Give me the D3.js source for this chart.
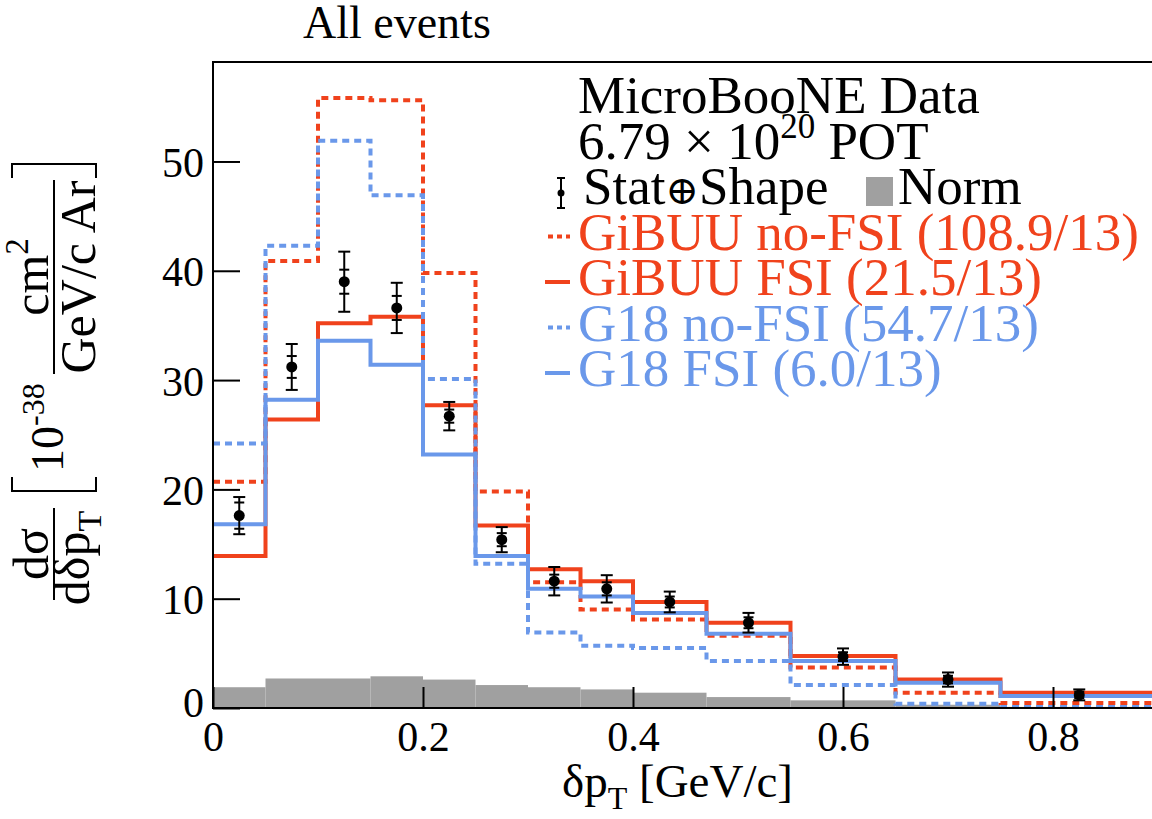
<!DOCTYPE html>
<html lang="en">
    <head>
        <meta charset="utf-8">
        <title>All events - delta pT</title>
        <script src="https://d3js.org/d3.v7.min.js"></script>
        <style type="text/css">
          body{ margin:0; background:#fff; }
          svg{ width:1152px; height:819px; display:block; }
          text{ font-family:"Liberation Serif","DejaVu Serif",serif; fill:#000; }
        </style>
    </head>
    <body>
        <svg></svg>

        <script type="text/javascript">

        // bin edges in GeV/c
        const binEdges = [0, 0.05, 0.1, 0.15, 0.2, 0.25, 0.3, 0.35, 0.4, 0.47, 0.55, 0.65, 0.75, 0.9];

        // measured cross section and uncertainties (10^-38 cm2 / GeV/c Ar)
        const dataVals = [17.6, 31.2, 39.0, 36.6, 26.7, 15.4, 11.6, 10.9, 9.7, 7.8, 4.7, 2.6, 1.2];
        const errTotal = [1.7, 2.1, 2.75, 2.3, 1.3, 1.15, 1.3, 1.25, 0.95, 0.9, 0.75, 0.65, 0.5];
        const errStat  = [1.2, 1.0, 1.1, 1.1, 0.6, 0.6, 0.6, 0.6, 0.5, 0.5, 0.4, 0.35, 0.3];

        // normalisation uncertainty band
        const normVals = [1.9, 2.7, 2.7, 2.9, 2.6, 2.1, 1.9, 1.7, 1.4, 1.0, 0.7, 0.3, 0.1];

        // generator predictions
        const gibuuNoFsi = [20.7, 40.9, 55.8, 55.6, 39.8, 19.8, 11.5, 9.0, 8.1, 6.6, 3.7, 1.4, 0.45];
        const gibuuFsi   = [13.9, 26.4, 35.2, 35.8, 27.7, 16.7, 12.7, 11.6, 9.7, 7.8, 4.75, 2.6, 1.4];
        const g18NoFsi   = [24.2, 42.3, 51.9, 46.9, 30.1, 13.2, 6.9, 5.7, 5.5, 4.3, 2.1, 0.4, 0.1];
        const g18Fsi     = [16.8, 28.2, 33.6, 31.4, 23.2, 13.9, 10.9, 10.2, 8.7, 6.8, 4.3, 2.3, 1.1];

        const yTicks = [0, 10, 20, 30, 40, 50];
        const xTicks = [0, 0.2, 0.4, 0.6, 0.8];

        const legendLabels = ["GiBUU no-FSI (108.9/13)", "GiBUU FSI (21.5/13)", "G18 no-FSI (54.7/13)", "G18 FSI (6.0/13)"];

        const red = "#f0421c";
        const blue = "#6a98ea";
        const grey = "#a0a0a0";

        const svg = d3.select("svg");

        const x = d3.scaleLinear().domain([0, 0.9]).range([213, 1158]);
        const y = d3.scaleLinear().domain([0, 59.1]).range([708, 62]);

        //norm band as grey bars
        svg.append("g").selectAll("rect")
           .data(normVals)
           .enter()
           .append("rect")
           .attr("x", (d,i) => x(binEdges[i]))
           .attr("width", (d,i) => x(binEdges[i+1]) - x(binEdges[i]))
           .attr("y", d => y(d))
           .attr("height", d => y(0) - y(d))
           .style("fill", grey);

        //step histograms
        const step = d3.line()
                       .x(d => x(d[0]))
                       .y(d => y(d[1]))
                       .curve(d3.curveStepAfter);

        const histPts = vals => vals.map((v,i) => [binEdges[i], v]).concat([[binEdges[vals.length], vals[vals.length-1]]]);

        const hists = [
          {vals: gibuuNoFsi, color: red, dash: "7,5"},
          {vals: gibuuFsi, color: red, dash: null},
          {vals: g18NoFsi, color: blue, dash: "7,5"},
          {vals: g18Fsi, color: blue, dash: null}
        ];

        svg.append("g").selectAll("path")
           .data(hists)
           .enter()
           .append("path")
           .attr("d", d => step(histPts(d.vals)))
           .attr("fill", "none")
           .attr("stroke", d => d.color)
           .attr("stroke-width", 4)
           .attr("stroke-dasharray", d => d.dash);

        //axes
        const yAxis = svg.append("g")
           .attr("transform", "translate(213,0)")
           .call(d3.axisLeft(y).tickValues(yTicks).tickSize(-27).tickPadding(9).tickFormat(d3.format("d")));
        const xAxis = svg.append("g")
           .attr("transform", "translate(0,708)")
           .call(d3.axisBottom(x).tickValues(xTicks).tickSize(-21).tickPadding(13).tickFormat(d => d === 0 ? "0" : d3.format(".1f")(d)));

        [yAxis, xAxis].forEach(a => {
          a.select(".domain").remove();
          a.selectAll(".tick line").attr("stroke", "#000").attr("stroke-width", 2);
          a.selectAll(".tick text").attr("font-family", "Liberation Serif").attr("font-size", 42).attr("fill", "#000");
        });
        yAxis.selectAll(".tick text").attr("dy", "0.36em");
        yAxis.selectAll(".tick").filter(d => d === 0).select("text").attr("dy", "0.2em");

        //frame
        svg.append("rect")
           .attr("x", x(0)).attr("y", y(59.1))
           .attr("width", x(0.9) - x(0)).attr("height", y(0) - y(59.1))
           .attr("fill", "none").attr("stroke", "#000").attr("stroke-width", 2);

        //data points with stat and stat+shape errors
        const pts = svg.append("g").selectAll("g")
           .data(dataVals)
           .enter()
           .append("g")
           .attr("transform", (d,i) => "translate(" + x((binEdges[i] + binEdges[i+1]) / 2) + ",0)");

        pts.append("line")
           .attr("y1", (d,i) => y(d - errTotal[i])).attr("y2", (d,i) => y(d + errTotal[i]))
           .attr("stroke", "#000").attr("stroke-width", 2);
        [1, -1].forEach(s => {
          pts.append("line")
             .attr("x1", -6).attr("x2", 6)
             .attr("y1", (d,i) => y(d + s * errTotal[i])).attr("y2", (d,i) => y(d + s * errTotal[i]))
             .attr("stroke", "#000").attr("stroke-width", 2);
          pts.append("line")
             .attr("x1", -5).attr("x2", 5)
             .attr("y1", (d,i) => y(d + s * errStat[i])).attr("y2", (d,i) => y(d + s * errStat[i]))
             .attr("stroke", "#000").attr("stroke-width", 2);
        });
        pts.append("circle")
           .attr("cy", d => y(d)).attr("r", 5.5)
           .attr("fill", "#000");

        //title
        svg.append("text")
           .attr("x", 303).attr("y", 38)
           .attr("font-size", 46)
           .text("All events");

        //x axis title
        const xt = svg.append("text")
           .attr("x", x(0.45) - 8).attr("y", 797)
           .attr("text-anchor", "middle")
           .attr("font-size", 47);
        xt.append("tspan").text("δp");
        xt.append("tspan").attr("font-size", 32).attr("dy", 12).text("T");
        xt.append("tspan").attr("dy", -12).text(" [GeV/c]");

        //y axis title, built rotated
        const yt = svg.append("g").attr("transform", "translate(54,600) rotate(-90)");
        const bar = (u1, u2) => yt.append("line").attr("x1", u1).attr("x2", u2).attr("y1", 0).attr("y2", 0)
                                   .attr("stroke", "#000").attr("stroke-width", 2);
        bar(0, 92);
        yt.append("text").attr("x", 46).attr("y", -6).attr("text-anchor", "middle").attr("font-size", 50).text("dσ");
        const den = yt.append("text").attr("x", 42).attr("y", 35).attr("text-anchor", "middle").attr("font-size", 50);
        den.append("tspan").text("dδp");
        den.append("tspan").attr("font-size", 34).attr("dy", 12).text("T");

        yt.append("path")
          .attr("d", "M123,-42 L109,-42 L109,42 L123,42")
          .attr("fill", "none").attr("stroke", "#000").attr("stroke-width", 2);
        const ten = yt.append("text").attr("x", 128).attr("y", 9).attr("font-size", 46);
        ten.append("tspan").text("10");
        ten.append("tspan").attr("font-size", 32).attr("dy", -19).text("-38");

        bar(226, 420);
        const cm = yt.append("text").attr("x", 323).attr("y", -6).attr("text-anchor", "middle").attr("font-size", 50);
        cm.append("tspan").text("cm");
        cm.append("tspan").attr("font-size", 33).attr("dy", -20).text("2");
        yt.append("text").attr("x", 323).attr("y", 41).attr("text-anchor", "middle").attr("font-size", 50).text("GeV/c Ar");
        yt.append("path")
          .attr("d", "M422,-42 L436,-42 L436,42 L422,42")
          .attr("fill", "none").attr("stroke", "#000").attr("stroke-width", 2);

        //legend
        const leg = svg.append("g");
        const lx = 578;
        const base0 = 113;
        const lh = 45.5;
        const fs = 53;

        leg.append("text").attr("x", lx).attr("y", base0).attr("font-size", fs).text("MicroBooNE Data");
        const pot = leg.append("text").attr("x", lx).attr("y", base0 + lh).attr("font-size", fs);
        pot.append("tspan").text("6.79 × 10");
        pot.append("tspan").attr("font-size", 35).attr("dy", -21).text("20");
        pot.append("tspan").attr("dy", 21).text(" POT");

        const statY = base0 + 2 * lh;
        leg.append("line").attr("x1", 561).attr("x2", 561).attr("y1", statY - 26).attr("y2", statY + 4).attr("stroke", "#000").attr("stroke-width", 2);
        leg.append("line").attr("x1", 557).attr("x2", 565).attr("y1", statY - 26).attr("y2", statY - 26).attr("stroke", "#000").attr("stroke-width", 2);
        leg.append("line").attr("x1", 557).attr("x2", 565).attr("y1", statY + 4).attr("y2", statY + 4).attr("stroke", "#000").attr("stroke-width", 2);
        leg.append("circle").attr("cx", 561).attr("cy", statY - 11).attr("r", 3.5).attr("fill", "#000");
        const st = leg.append("text").attr("x", 583).attr("y", statY).attr("font-size", fs);
        st.append("tspan").text("Stat");
        st.append("tspan").attr("font-family", "DejaVu Serif").attr("font-size", 40).text("⊕");
        st.append("tspan").text("Shape");
        leg.append("rect").attr("x", 866).attr("y", statY - 27).attr("width", 27).attr("height", 29).attr("fill", grey);
        leg.append("text").attr("x", 898).attr("y", statY).attr("font-size", fs).text("Norm");

        legendLabels.forEach((lab, i) => {
          const by = base0 + (3 + i) * lh;
          const h = hists[i];
          leg.append("line")
             .attr("x1", h.dash ? 548 : 545).attr("x2", 570)
             .attr("y1", by - 13).attr("y2", by - 13)
             .attr("stroke", h.color).attr("stroke-width", 4)
             .attr("stroke-dasharray", h.dash ? "5,4" : null);
          leg.append("text")
             .attr("x", lx).attr("y", by)
             .attr("font-size", fs)
             .style("fill", h.color)
             .text(lab);
        });

        </script>
    </body>
</html>
